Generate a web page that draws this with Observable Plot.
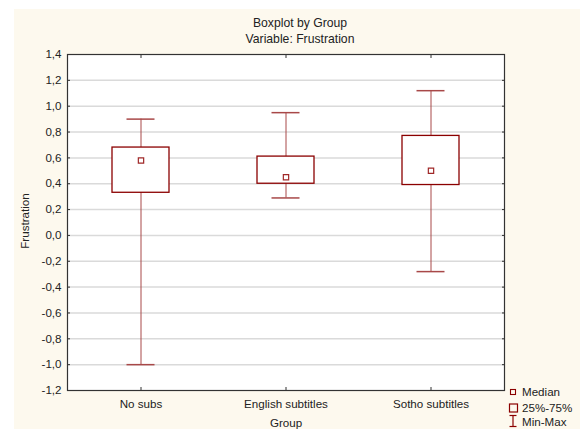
<!DOCTYPE html>
<html>
<head>
<meta charset="utf-8">
<script src="https://cdn.jsdelivr.net/npm/d3@7"></script>
<script src="https://cdn.jsdelivr.net/npm/@observablehq/plot@0.6"></script>
<style>
  body { margin: 0; background: white; font-family: "Liberation Sans", Arial, sans-serif; }
  #wrap { position: relative; width: 580px; height: 429px; overflow: hidden; background: white; }
  #cream { position: absolute; left: 14px; top: 9px; right: 0; bottom: 0; background: #fdf9ee; }
  .t { position: absolute; font-size: 11.6px; color: #222; white-space: nowrap; transform: translate(-50%, -50%); }
  .ttl { font-size: 12.2px; }
  #chart { position: absolute; left: 0; top: 0; }
  #legend { position: absolute; left: 506px; top: 386px; }
</style>
</head>
<body>
<div id="wrap">
  <div id="cream"></div>
  <div id="chart"></div>
  <div class="t ttl" style="left:300px; top:23px;">Boxplot by Group</div>
  <div class="t ttl" style="left:300px; top:39px;">Variable: Frustration</div>
  <div class="t" style="left:286px; top:422px;">Group</div>
  <div class="t" style="left:24px; top:221px; transform: translate(-50%, -50%) rotate(-90deg);">Frustration</div>
  <div id="legend"></div>
</div>
<script>
const groups = ["No subs", "English subtitles", "Sotho subtitles"];
const mins = [-1.0, 0.29, -0.28];
const q1s = [0.33, 0.40, 0.39];
const medians = [0.58, 0.45, 0.50];
const q3s = [0.68, 0.61, 0.77];
const maxs = [0.90, 0.95, 1.12];
const yTicks = [-1.2, -1.0, -0.8, -0.6, -0.4, -0.2, 0.0, 0.2, 0.4, 0.6, 0.8, 1.0, 1.2, 1.4];
const legendLabels = ["Median", "25%-75%", "Min-Max"];

const rows = groups.map((g, i) => ({group: g, min: mins[i], q1: q1s[i], median: medians[i], q3: q3s[i], max: maxs[i]}));
const fmt = d => d.toFixed(1).replace(".", ",");
const boxColor = "#8b0000";
const whiskColor = "#a84848";

const chart = Plot.plot({
  width: 580,
  height: 429,
  marginLeft: 67,
  marginRight: 76,
  marginTop: 54,
  marginBottom: 39,
  style: {background: "transparent", fontFamily: "Liberation Sans, Arial, sans-serif", fontSize: "11.6px", color: "#222", overflow: "visible"},
  x: {domain: groups, padding: 0, label: null},
  y: {domain: [-1.2, 1.4], label: null},
  marks: [
    Plot.frame({fill: "white", stroke: "none"}),
    Plot.gridY(yTicks.slice(1, -1), {stroke: "#dadada", strokeOpacity: 1, strokeWidth: 1.5}),
    Plot.axisY({ticks: yTicks, tickSize: 0, tickPadding: 6, tickFormat: fmt, fill: "#222"}),
    Plot.axisY({ticks: yTicks, tickSize: -3, tickFormat: () => "", stroke: "#333"}),
    Plot.axisY({ticks: yTicks, anchor: "right", tickSize: -3, tickFormat: () => "", stroke: "#333"}),
    Plot.axisX({tickSize: 0, tickPadding: 9, fill: "#222"}),
    Plot.axisX({tickSize: -3, tickFormat: () => "", stroke: "#333"}),
    Plot.axisX({anchor: "top", tickSize: -3, tickFormat: () => "", stroke: "#333"}),
    Plot.ruleX(rows, {x: "group", y1: "min", y2: "max", stroke: whiskColor, strokeWidth: 1}),
    Plot.tickY(rows, {x: "group", y: "min", stroke: whiskColor, strokeWidth: 1.5, insetLeft: 58.5, insetRight: 58.5}),
    Plot.tickY(rows, {x: "group", y: "max", stroke: whiskColor, strokeWidth: 1.5, insetLeft: 58.5, insetRight: 58.5}),
    Plot.barY(rows, {x: "group", y1: "q1", y2: "q3", fill: "white", stroke: boxColor, strokeWidth: 1.3, insetLeft: 44, insetRight: 44}),
    Plot.dot(rows, {x: "group", y: "median", symbol: "square", r: 3, stroke: "#a02828", strokeWidth: 1.2, fill: "white"}),
    Plot.frame({stroke: "#333", strokeWidth: 1.2})
  ]
});
document.getElementById("chart").append(chart);

// legend
const ns = "http://www.w3.org/2000/svg";
const lg = document.createElementNS(ns, "svg");
lg.setAttribute("width", 74);
lg.setAttribute("height", 43);
lg.style.overflow = "visible";
lg.innerHTML = `
  <rect x="4.5" y="3.5" width="5" height="5" fill="none" stroke="${boxColor}" stroke-width="1.1"/>
  <rect x="3.5" y="18" width="8" height="8" fill="none" stroke="${boxColor}" stroke-width="1.2"/>
  <line x1="3.5" x2="10.5" y1="29.5" y2="29.5" stroke="${boxColor}" stroke-width="1.2"/>
  <line x1="7" x2="7" y1="29.5" y2="40.5" stroke="${boxColor}" stroke-width="1.2"/>
  <line x1="3.5" x2="10.5" y1="40.5" y2="40.5" stroke="${boxColor}" stroke-width="1.2"/>
  <text x="16" y="10" font-size="11.6" fill="#222" font-family="Liberation Sans, Arial, sans-serif">${legendLabels[0]}</text>
  <text x="16" y="26" font-size="11.6" fill="#222" font-family="Liberation Sans, Arial, sans-serif">${legendLabels[1]}</text>
  <text x="16" y="39.5" font-size="11.6" fill="#222" font-family="Liberation Sans, Arial, sans-serif">${legendLabels[2]}</text>`;
document.getElementById("legend").append(lg);
</script>
</body>
</html>
